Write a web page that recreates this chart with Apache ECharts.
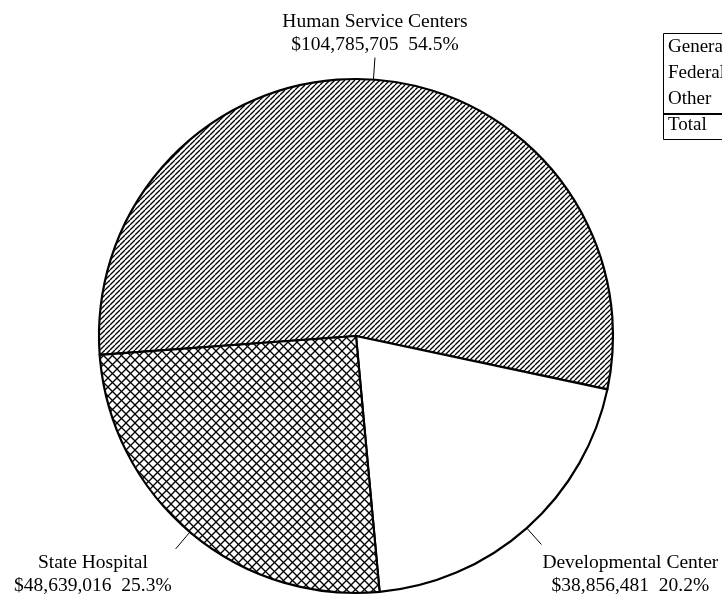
<!DOCTYPE html>
<html>
<head>
<meta charset="utf-8">
<script src="https://cdn.jsdelivr.net/npm/echarts@6/dist/echarts.min.js"></script>
<style>
html,body{margin:0;padding:0;background:#fff;}
#chart{width:722px;height:597px;}
</style>
</head>
<body>
<div id="chart"></div>
<script>
// ---- data ----
var categories = ['Human Service Centers', 'Developmental Center', 'State Hospital'];
var amounts = [104785705, 38856481, 48639016];
var percents = ['54.5', '20.2', '25.3'];
var tableRows = ['General', 'Federal', 'Other'];
var tableTotal = 'Total';

// ---- patterns ----
function hatchPattern(size, both, lw) {
  var c = document.createElement('canvas');
  c.width = size; c.height = size;
  var g = c.getContext('2d');
  g.fillStyle = '#fff';
  g.fillRect(0, 0, size, size);
  g.strokeStyle = '#000';
  g.lineWidth = lw;
  for (var k = -1; k <= 1; k++) {
    g.beginPath();
    g.moveTo(k * size, size);
    g.lineTo(k * size + size, 0);
    g.stroke();
    if (both) {
      g.beginPath();
      g.moveTo(k * size, 0);
      g.lineTo(k * size + size, size);
      g.stroke();
    }
  }
  return c;
}
var diagImg = hatchPattern(5, false, 1.3);
var crossImg = hatchPattern(9, true, 1.3);
var fills = [
  { image: diagImg, repeat: 'repeat' },
  '#ffffff',
  { image: crossImg, repeat: 'repeat' }
];

var data = categories.map(function (name, i) {
  return { name: name, value: amounts[i], itemStyle: { color: fills[i] } };
});

var chart = echarts.init(document.getElementById('chart'), null, { renderer: 'canvas' });

var graphics = [{
  type: 'rect',
  shape: { x: 663.5, y: 33.5, width: 120, height: 106 },
  style: { fill: '#fff', stroke: '#000', lineWidth: 1 },
  silent: true
}, {
  type: 'line',
  shape: { x1: 663, y1: 114, x2: 722, y2: 114 },
  style: { stroke: '#000', lineWidth: 2 },
  silent: true
}];
var rowY = [49, 75, 101];
tableRows.forEach(function (t, i) {
  graphics.push({
    type: 'text', left: 668, top: rowY[i] - 11,
    style: { text: t, fill: '#000', font: '19px "Liberation Serif"' },
    silent: true
  });
});
graphics.push({
  type: 'text', left: 668, top: 127 - 11,
  style: { text: tableTotal, fill: '#000', font: '19px "Liberation Serif"' },
  silent: true
});

chart.setOption({
  backgroundColor: '#fff',
  animation: false,
  graphic: graphics,
  series: [{
    type: 'pie',
    center: [356, 336],
    radius: 257,
    startAngle: 184.2,
    clockwise: true,
    avoidLabelOverlap: false,
    silent: true,
    emphasis: { disabled: true },
    itemStyle: { borderColor: '#000', borderWidth: 2.2 },
    label: {
      show: true,
      position: 'outside',
      fontFamily: 'Liberation Serif',
      fontSize: 19.5,
      lineHeight: 23,
      color: '#000',
      formatter: function (p) {
        return p.name + '\n$' + p.value.toLocaleString('en-US') + '  ' + percents[p.dataIndex] + '%';
      }
    },
    labelLine: {
      show: true,
      length: 22,
      length2: 0,
      lineStyle: { color: '#000', width: 1 }
    },
    labelLayout: function (p) {
      var pts = p.labelLinePoints;
      if (!pts) return {};
      var end = pts[1];
      var w = p.labelRect.width;
      var line = [pts[0], pts[1], pts[1]];
      if (p.dataIndex === 0) {
        return { x: end[0], y: end[1] - 1, align: 'center', verticalAlign: 'bottom', labelLinePoints: line };
      } else if (p.dataIndex === 1) {
        return { x: end[0] + 1 + w / 2, y: end[1] + 7, align: 'center', verticalAlign: 'top', labelLinePoints: line };
      }
      return { x: end[0] - 4 - w / 2, y: end[1] + 2, align: 'center', verticalAlign: 'top', labelLinePoints: line };
    },
    data: data
  }]
});
</script>
</body>
</html>
